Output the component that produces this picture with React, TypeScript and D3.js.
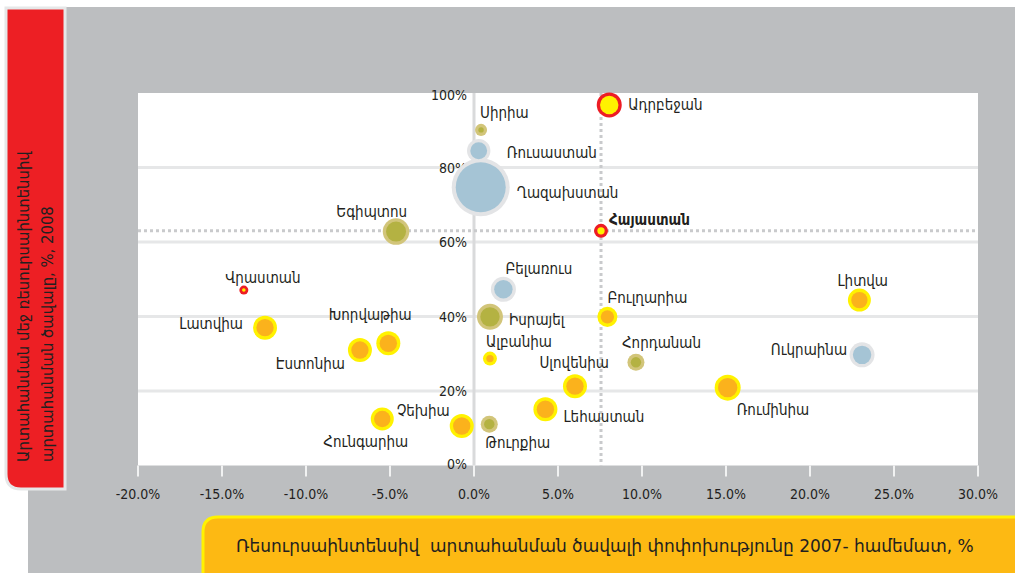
import React, { useEffect, useRef } from 'react';
import * as d3 from 'd3';

// data
const countries = ['Ադրբեջան', 'Սիրիա', 'Ռուսաստան', 'Ղազախստան', 'Հայաստան', 'Եգիպտոս', 'Վրաստան', 'Լատվիա', 'Խորվաթիա', 'Էստոնիա', 'Հունգարիա', 'Չեխիա', 'Բելառուս', 'Իսրայել', 'Ալբանիա', 'Բուլղարիա', 'Հորդանան', 'Սլովենիա', 'Լեհաստան', 'Թուրքիա', 'Ռումինիա', 'Լիտվա', 'Ուկրաինա'];
const exportChange = [8.05, 0.42, 0.28, 0.4, 7.56, -4.64, -13.7, -12.44, -5.1, -6.79, -5.46, -0.73, 1.75, 0.95, 0.95, 7.94, 9.64, 6.01, 4.25, 0.91, 15.1, 22.94, 23.1];
const resourceShare = [96.8, 90.1, 84.5, 74.7, 63.0, 62.8, 47.1, 37.0, 32.8, 31.0, 12.5, 10.6, 47.3, 39.9, 28.7, 39.9, 27.7, 21.3, 15.1, 11.1, 20.9, 44.4, 29.7];
const volume = [18.6, 4.3, 16.3, 100, 5.8, 21.0, 2.4, 17.1, 17.1, 17.1, 15.7, 17.1, 18.6, 20.1, 5.8, 11.9, 8.6, 17.1, 17.1, 8.6, 20.1, 15.7, 18.6];
const group = ['red', 'olive', 'blue', 'blue', 'red', 'olive', 'red', 'yellow', 'yellow', 'yellow', 'yellow', 'yellow', 'blue', 'olive', 'yellow', 'yellow', 'olive', 'yellow', 'yellow', 'olive', 'yellow', 'yellow', 'blue'];
const xTicks = [-20, -15, -10, -5, 0, 5, 10, 15, 20, 25, 30];
const yTicks = [0, 20, 40, 60, 80, 100];
const armenia = 4;

const yTitle = ['Արտահանման մեջ ռեսուրսաինտենսիվ', 'արտահանման ծավալը, %, 2008'];
const xTitle = 'Ռեսուրսաինտենսիվ  արտահանման ծավալի փոփոխությունը 2007- համեմատ, %';

// label offsets from the bubble centre: dx, dy, anchor
const labelPos: [number, number, string][] = [
  [19, 0, 'start'], [-1, -17, 'start'], [28, 2, 'start'], [36, 6, 'start'], [8, -11, 'start'],
  [11, -20, 'end'], [19, -12, 'middle'], [-22, -4, 'end'], [-18, -28, 'middle'], [-15, 14, 'end'],
  [26, 23, 'end'], [-12, -15, 'end'], [2, -20, 'start'], [19, 3, 'start'], [-4, -17, 'start'],
  [0, -19, 'start'], [-14, -19, 'start'], [34, -23, 'end'], [18, 8, 'start'], [-4, 19, 'start'],
  [9, 22, 'start'], [-22, -19, 'start'], [-15, -5, 'end'],
];

const colors: Record<string, [string, string]> = {
  red: ['#ed1c24', '#fff200'],
  yellow: ['#fff200', '#fbb21c'],
  olive: ['#d2c57a', '#b4b242'],
  blue: ['#e3e4e6', '#a5c4d5'],
};

const W = 1015, H = 573;
const font = '"DejaVu Sans Condensed", "DejaVu Sans", sans-serif';
const ink = '#231f20';

export default function App() {
  const ref = useRef<SVGSVGElement>(null);

  useEffect(() => {
    const svg = d3.select(ref.current);
    svg.selectAll('*').remove();

    const plot = { left: 138, right: 978, top: 93, bottom: 465.5 };
    const x = d3.scaleLinear().domain([-20, 30]).range([plot.left, plot.right]);
    const y = d3.scaleLinear().domain([0, 100]).range([plot.bottom, plot.top]);
    const r = d3.scaleSqrt().domain([0, 100]).range([0, 29]);

    // panels
    svg.append('rect').attr('x', 28).attr('y', 7).attr('width', W - 28).attr('height', H - 7).attr('fill', '#bcbec0');

    const rp = { x0: 6, y0: 8, x1: 65, y1: 489, rr: 15 };
    svg.append('path')
      .attr('d', `M${rp.x0},${rp.y0} H${rp.x1} V${rp.y1} H${rp.x0 + rp.rr} Q${rp.x0},${rp.y1} ${rp.x0},${rp.y1 - rp.rr} Z`)
      .attr('fill', '#ed1f24').attr('stroke', '#e6e7e8').attr('stroke-width', 3);

    const ttl = svg.append('text').attr('transform', 'translate(0,462) rotate(-90)')
      .attr('font-family', font).attr('font-size', 16.5).attr('fill', ink);
    yTitle.forEach((t, i) => {
      ttl.append('tspan').attr('x', 0).attr('y', i === 0 ? 23 : 47).attr('dominant-baseline', 'central').text(t);
    });

    const yp = { x0: 203, y0: 517, rr: 15 };
    svg.append('path')
      .attr('d', `M${yp.x0},${H + 5} V${yp.y0 + yp.rr} Q${yp.x0},${yp.y0} ${yp.x0 + yp.rr},${yp.y0} H${W + 5} V${H + 5} Z`)
      .attr('fill', '#fdb913').attr('stroke', '#fff200').attr('stroke-width', 3);
    svg.append('text').attr('x', 236).attr('y', 546).attr('dominant-baseline', 'central')
      .style('white-space', 'pre')
      .attr('font-family', '"DejaVu Sans", sans-serif').attr('font-size', 17).attr('fill', ink).text(xTitle);

    // plot area
    svg.append('rect').attr('x', plot.left).attr('y', plot.top)
      .attr('width', plot.right - plot.left).attr('height', plot.bottom - plot.top).attr('fill', '#fff');

    svg.append('g').selectAll('line').data(yTicks.filter(d => d > 0 && d < 100)).join('line')
      .attr('x1', plot.left).attr('x2', plot.right)
      .attr('y1', d => y(d)).attr('y2', d => y(d))
      .attr('stroke', '#e6e7e8').attr('stroke-width', 3);

    svg.append('line').attr('x1', x(0)).attr('x2', x(0)).attr('y1', plot.top).attr('y2', plot.bottom)
      .attr('stroke', '#d9dadb').attr('stroke-width', 3);

    // x ticks
    svg.append('g').selectAll('line').data(xTicks).join('line')
      .attr('x1', d => x(d)).attr('x2', d => x(d)).attr('y1', plot.bottom).attr('y2', plot.bottom + 11)
      .attr('stroke', '#f1f2f2').attr('stroke-width', 2);
    svg.append('g').selectAll('text').data(xTicks).join('text')
      .attr('x', d => x(d)).attr('y', 494).attr('text-anchor', 'middle').attr('dominant-baseline', 'central')
      .attr('font-family', font).attr('font-size', 14).attr('fill', ink)
      .text(d => d.toFixed(1) + '%');

    // y tick labels
    svg.append('g').selectAll('text').data(yTicks).join('text')
      .attr('x', x(0) - 7).attr('y', d => d === 100 ? y(d) + 2 : d === 0 ? y(d) - 2 : y(d))
      .attr('text-anchor', 'end').attr('dominant-baseline', 'central')
      .attr('font-family', font).attr('font-size', 14).attr('fill', ink)
      .text(d => d + '%');

    // Armenia reference lines
    const ax = x(exportChange[armenia]), ay = y(resourceShare[armenia]);
    svg.append('line').attr('x1', plot.left).attr('x2', plot.right).attr('y1', ay).attr('y2', ay)
      .attr('stroke', '#c9cacc').attr('stroke-width', 3).attr('stroke-dasharray', '3,3');
    svg.append('line').attr('x1', ax).attr('x2', ax).attr('y1', plot.top).attr('y2', plot.bottom)
      .attr('stroke', '#c9cacc').attr('stroke-width', 3).attr('stroke-dasharray', '3,3');

    // bubbles
    const idx = countries.map((_, i) => i);
    const g = svg.append('g');
    g.selectAll('circle.outer').data(idx).join('circle').attr('class', 'outer')
      .attr('cx', i => x(exportChange[i])).attr('cy', i => y(resourceShare[i]))
      .attr('r', i => r(volume[i])).attr('fill', i => colors[group[i]][0]);
    g.selectAll('circle.inner').data(idx).join('circle').attr('class', 'inner')
      .attr('cx', i => x(exportChange[i])).attr('cy', i => y(resourceShare[i]))
      .attr('r', i => Math.max(r(volume[i]) - (i === 3 ? 4 : 3.3), r(volume[i]) * 0.4))
      .attr('fill', i => colors[group[i]][1]);

    // labels
    svg.append('g').selectAll('text').data(idx).join('text')
      .attr('x', i => x(exportChange[i]) + labelPos[i][0])
      .attr('y', i => y(resourceShare[i]) + labelPos[i][1])
      .attr('text-anchor', i => labelPos[i][2]).attr('dominant-baseline', 'central')
      .attr('font-family', font).attr('font-size', 15).attr('fill', ink)
      .attr('font-weight', i => i === armenia ? 'bold' : 'normal')
      .text(i => countries[i]);
  }, []);

  return <svg ref={ref} width={W} height={H} style={{ display: 'block', position: 'absolute', left: 0, top: 0 }} />;
}
